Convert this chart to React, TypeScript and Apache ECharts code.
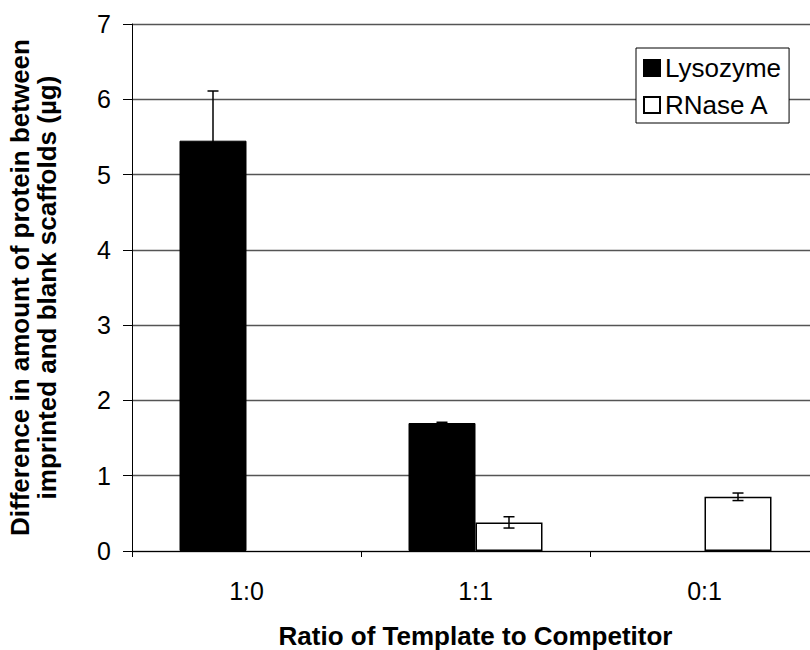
import React, { useEffect, useRef } from "react";
import * as echarts from "echarts";

const categories = ["1:0", "1:1", "0:1"];
const lysozyme = [5.45, 1.7, 0];
const lysozymeErr = [0.66, 0.01, 0];
const rnase = [0, 0.38, 0.72];
const rnaseErr = [0, 0.075, 0.05];
const yTicks = { min: 0, max: 7, interval: 1 };

const FONT = "'Liberation Sans', Arial, sans-serif";
const BAR_W = 67;

export default function App() {
  const ref = useRef<HTMLDivElement>(null);
  useEffect(() => {
    if (!ref.current) return;
    const chart = echarts.init(ref.current, null, { renderer: "svg" });

    const errData: number[][] = [];
    lysozyme.forEach((v, i) => {
      if (lysozymeErr[i] > 0) errData.push([i, v - lysozymeErr[i], v + lysozymeErr[i], -1]);
    });
    rnase.forEach((v, i) => {
      if (rnaseErr[i] > 0) errData.push([i, v - rnaseErr[i], v + rnaseErr[i], 1]);
    });
    const show = (arr: number[]) => arr.map((v) => (v === 0 ? null : v));

    chart.setOption({
      animation: false,
      backgroundColor: "#ffffff",
      grid: {
        left: 132,
        top: 24,
        width: 687,
        height: 527,
        containLabel: false,
        outerBoundsMode: "none",
      },
      legend: {
        left: 636,
        top: 48,
        orient: "vertical",
        backgroundColor: "#ffffff",
        borderColor: "#000",
        borderWidth: 1,
        padding: [7, 8, 5, 7],
        itemWidth: 16,
        itemHeight: 16,
        itemGap: 11,
        icon: "rect",
        textStyle: { fontFamily: FONT, fontSize: 26, color: "#000" },
        data: ["Lysozyme", "RNase A"],
      },
      xAxis: {
        type: "category",
        data: categories,
        boundaryGap: true,
        axisLine: { lineStyle: { color: "#000", width: 1 } },
        axisTick: { show: true, length: 6, inside: false, lineStyle: { color: "#000" } },
        axisLabel: { fontFamily: FONT, fontSize: 25, color: "#000", margin: 27 },
        name: "Ratio of Template to Competitor",
        nameLocation: "middle",
        nameGap: 72,
        nameTextStyle: { fontFamily: FONT, fontSize: 26, fontWeight: "bold", color: "#000" },
      },
      yAxis: {
        type: "value",
        min: yTicks.min,
        max: yTicks.max,
        interval: yTicks.interval,
        axisLine: { show: true, lineStyle: { color: "#000", width: 1 } },
        axisTick: { show: true, length: 9, inside: false, lineStyle: { color: "#000" } },
        axisLabel: { fontFamily: FONT, fontSize: 25, color: "#000", margin: 21 },
        splitLine: { show: true, lineStyle: { color: "#555", width: 1.3 } },
        name: "Difference in amount of protein between\nimprinted and blank scaffolds (µg)",
        nameLocation: "middle",
        nameRotate: 90,
        nameGap: 72,
        nameTextStyle: {
          fontFamily: FONT,
          fontSize: 26,
          fontWeight: "bold",
          color: "#000",
          lineHeight: 27,
        },
      },
      series: [
        {
          name: "Lysozyme",
          type: "bar",
          data: show(lysozyme),
          barWidth: BAR_W,
          barGap: "0%",
          itemStyle: { color: "#000", borderColor: "#000", borderWidth: 1 },
        },
        {
          name: "RNase A",
          type: "bar",
          data: show(rnase),
          barWidth: BAR_W,
          barGap: "0%",
          itemStyle: { color: "#fff", borderColor: "#000", borderWidth: 1.5 },
        },
        {
          type: "custom",
          name: "err",
          data: errData,
          encode: { x: 0, y: [1, 2] },
          z: 10,
          renderItem: (params: any, api: any) => {
            const idx = api.value(0);
            const lo = api.coord([idx, api.value(1)]);
            const hi = api.coord([idx, api.value(2)]);
            const x = lo[0] + api.value(3) * (BAR_W / 2);
            const cap = 5.5;
            const style = { stroke: "#000", lineWidth: 1.5 };
            return {
              type: "group",
              children: [
                { type: "line", shape: { x1: x, y1: lo[1], x2: x, y2: hi[1] }, style },
                { type: "line", shape: { x1: x - cap, y1: hi[1], x2: x + cap, y2: hi[1] }, style },
                { type: "line", shape: { x1: x - cap, y1: lo[1], x2: x + cap, y2: lo[1] }, style },
              ],
            };
          },
        },
      ],
    });
    return () => chart.dispose();
  }, []);
  return (
    <div
      ref={ref}
      style={{ position: "fixed", left: 0, top: 0, width: 810, height: 650 }}
    />
  );
}
